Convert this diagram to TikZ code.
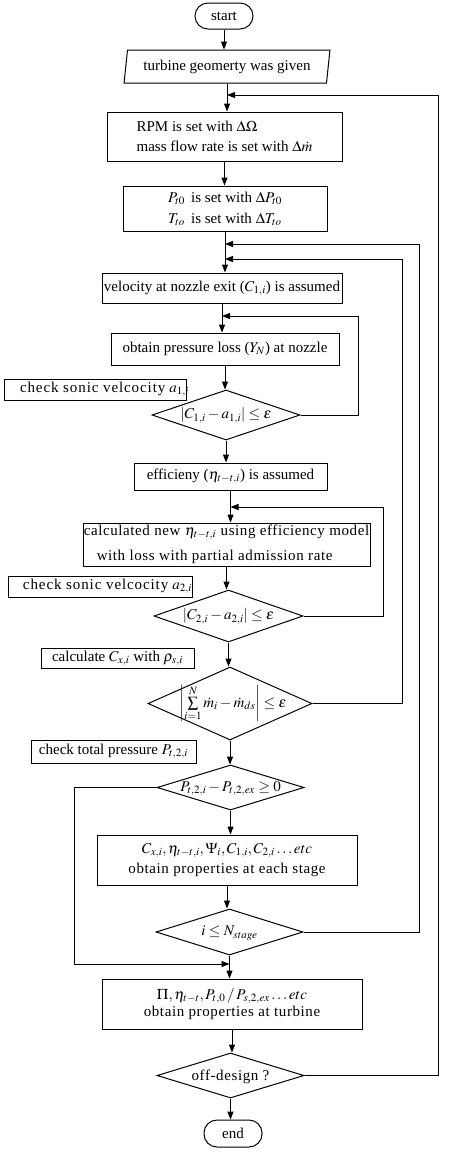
\documentclass[tikz,border=0pt]{standalone}
\usepackage{mathptmx}
\usepackage{fontspec}
\setmainfont{Liberation Serif}
\newfontfamily\spc[LetterSpace=4]{Liberation Serif}
\newfontfamily\spcw[LetterSpace=6]{Liberation Serif}
\usetikzlibrary{shapes.geometric,arrows.meta}
\newcommand\dtx[2][0.28em]{\makebox[0pt]{\smash{\raisebox{-#1}{#2}}}}
\newcommand\lbx[2]{\makebox[#1][l]{#2}}
\begin{document}
\begin{tikzpicture}[x=1pt,y=-1pt,
  every node/.style={font=\fontsize{15}{20}\selectfont},
  base/.style={draw,line width=1pt,inner sep=0pt},
  box/.style={base,rectangle},
  term/.style={base,rectangle,rounded corners=13pt},
  dia/.style={base,diamond},
  para/.style={base,trapezium,trapezium left angle=78,trapezium right angle=102,trapezium stretches=true},
  arr/.style={line width=1pt,-{Triangle[length=8pt,width=6pt]}}]
\useasboundingbox (0,0) rectangle (450,1152);

\node[term,minimum width=58pt,minimum height=26pt] (start) at (224,16) {start};
\node[para,minimum width=206pt,minimum height=33pt] (geom) at (227,66.5) {turbine geomerty was given};
\node[box,minimum width=235pt,minimum height=49pt,align=left] (b1) at (224.5,136.5)
  {RPM is set with $\Delta\Omega$\\ mass flow rate is set with $\Delta\dot{m}$};
\node[box,minimum width=204pt,minimum height=45pt,align=left,font=\fontsize{15}{21}\selectfont] (b2) at (225,208.5)
  {$P_{t0}$\, is set with $\Delta P_{t0}$\\ $T_{to}$\, is set with $\Delta T_{to}$};
\node[box,minimum width=240pt,minimum height=30pt] (b3) at (222,288)
  {velocity at nozzle exit ($C_{1,i}$) is assumed};
\node[box,minimum width=228pt,minimum height=32pt] (b4) at (225,349)
  {obtain pressure loss ($Y_N$) at nozzle};
\node[box,minimum width=182pt,minimum height=21pt] (c1) at (95,389.5)
  {\lbx{150pt}{\spcw check sonic velcocity\hspace{4pt}$a_{1,i}$}};
\node[dia,minimum width=148pt,minimum height=50pt] (d1) at (226,415)
  {\dtx[0.25em]{$\left|C_{1,i}-a_{1,i}\right|\le\varepsilon$}};
\node[box,minimum width=193pt,minimum height=27pt] (b5) at (230.5,476.5)
  {efficieny ($\eta_{t-t,i}$) is assumed};
\node[box,minimum width=287pt,minimum height=43pt,align=left,font=\spc\fontsize{15}{25}\selectfont] (b6) at (226.5,544.5)
  {calculated new $\eta_{t-t,i}$ using efficiency model\\ \hspace*{13pt}with loss with partial admission rate};
\node[box,minimum width=184pt,minimum height=21pt] (c2) at (100,586.5)
  {\lbx{154pt}{\spcw check sonic velcocity\hspace{4pt}$a_{2,i}$}};
\node[dia,minimum width=149pt,minimum height=52pt] (d2) at (228.5,616)
  {\dtx[0.25em]{$\left|C_{2,i}-a_{2,i}\right|\le\varepsilon$}};
\node[box,minimum width=153pt,minimum height=20pt] (c3) at (117.5,658)
  {calculate $C_{x,i}$ with $\rho_{s,i}$};
\node[dia,minimum width=164pt,minimum height=73pt] (d3) at (230,703.5)
  {\dtx[0.25em]{\hspace*{6pt}$\left|\sum\limits_{i=1}^{N}\dot{m}_i-\dot{m}_{ds}\right|\le\varepsilon$}};
\node[box,minimum width=165pt,minimum height=23pt] (c4) at (113.5,751.5)
  {check total pressure $P_{t,2,i}$};
\node[dia,minimum width=147pt,minimum height=45pt] (d4) at (230.5,787.5)
  {\dtx[0.25em]{$P_{t,2,i}-P_{t,2,ex}\ge 0$}};
\node[box,minimum width=260pt,minimum height=50pt,align=center] (b7) at (227,860)
  {$C_{x,i},\eta_{t-t,i},\Psi_i,C_{1,i},C_{2,i}\ldots etc$\\ {\spc obtain properties at each stage}};
\node[dia,minimum width=147pt,minimum height=46pt] (d5) at (229.5,932)
  {\dtx[0.25em]{$i\le N_{stage}$}};
\node[box,minimum width=260pt,minimum height=50pt,align=center,font=\fontsize{15}{17}\selectfont] (b8) at (232,1004)
  {$\Pi,\eta_{t-t},P_{t,0}\,/\,P_{s,2,ex}\ldots etc$\\ {\spc obtain properties at turbine}};
\node[dia,minimum width=147pt,minimum height=45pt] (d6) at (230.5,1075.5)
  {\dtx[0.3em]{\spc off-design ?}};
\node[term,minimum width=58pt,minimum height=27pt] (end) at (233,1133.5) {end};

% loop corner coordinates
\coordinate (r0) at (438,95);
\coordinate (r1) at (419,244);
\coordinate (r2) at (402,259);
\coordinate (r3) at (358,316);
\coordinate (r4) at (383,507);
\coordinate (l1) at (74,964);

% main flow
\draw[arr] (start.south) -- (start.south |- geom.north);
\draw[arr] (geom.south) -- (geom.south |- b1.north);
\draw[arr] (b1.south) -- (b1.south |- b2.north);
\draw[arr] (b2.south) -- (b2.south |- b3.north);
\draw[arr] (b3.south) -- (b3.south |- b4.north);
\draw[arr] (b4.south) -- (b4.south |- d1.north);
\draw[arr] (d1.south) -- (d1.south |- b5.north);
\draw[arr] (b5.south) -- (b5.south |- b6.north);
\draw[arr] (b6.south) -- (b6.south |- d2.north);
\draw[arr] (d2.south) -- (d2.south |- d3.north);
\draw[arr] (d3.south) -- (d3.south |- d4.north);
\draw[arr] (d4.south) -- (d4.south |- b7.north);
\draw[arr] (b7.south) -- (b7.south |- d5.north);
\draw[arr] (d5.south) -- (d5.south |- b8.north);
\draw[arr] (b8.south) -- (b8.south |- d6.north);
\draw[arr] (d6.south) -- (d6.south |- end.north);

% feedback loops
\draw[arr] (d6.east) -| (r0) -- (geom.south |- r0);
\draw[arr] (d5.east) -| (r1) -- (b2.south |- r1);
\draw[arr] (d3.east) -| (r2) -- (b2.south |- r2);
\draw[arr] (d1.east) -| (r3) -- (b3.south |- r3);
\draw[arr] (d2.east) -| (r4) -- (b5.south |- r4);
\draw[arr] (d4.west) -| (l1) -- (d5.south |- l1);
\end{tikzpicture}
\end{document}
